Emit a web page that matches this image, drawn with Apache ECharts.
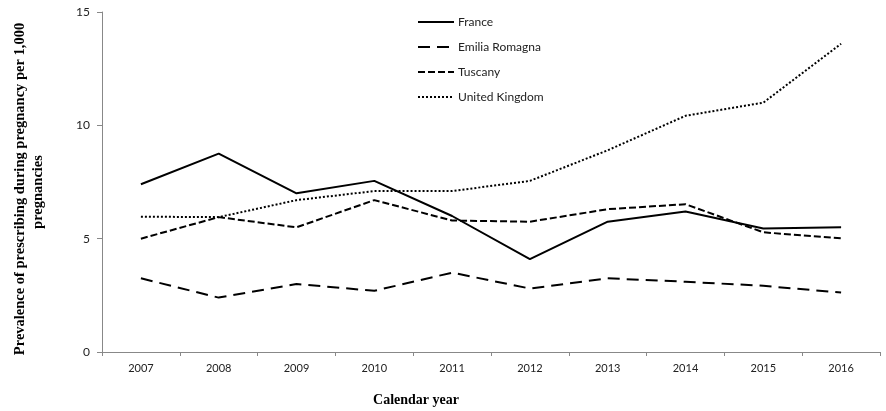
<!DOCTYPE html>
<html><head><meta charset="utf-8">
<script src="https://cdn.jsdelivr.net/npm/echarts@6/dist/echarts.min.js"></script>
<style>html,body{margin:0;padding:0;background:#fff}#c{width:886px;height:411px}</style>
</head><body><div id="c"></div>
<script>
var years = ['2007','2008','2009','2010','2011','2012','2013','2014','2015','2016'];
var france = [7.4, 8.75, 7.0, 7.55, 6.0, 4.1, 5.75, 6.2, 5.45, 5.5];
var emiliaRomagna = [3.25, 2.4, 3.0, 2.7, 3.5, 2.8, 3.25, 3.1, 2.92, 2.62];
var tuscany = [5.0, 5.95, 5.5, 6.7, 5.8, 5.75, 6.3, 6.52, 5.28, 5.02];
var unitedKingdom = [5.97, 5.95, 6.7, 7.1, 7.1, 7.55, 8.9, 10.42, 11.0, 13.6];
var yTicks = [0, 5, 10, 15];

var chart = echarts.init(document.getElementById('c'));
var lbl = {fontFamily:'Lato', fontSize:11, color:'#222'};
function mk(name, data, type, width){
  return {name:name, type:'line', data:data, symbol:'none', smooth:false,
    lineStyle:{color:'#000', width:width, type:type}, itemStyle:{color:'#000'},
    emphasis:{disabled:true}};
}
chart.setOption({
  animation:false,
  grid:{left:102, right:6, top:12, bottom:59},
  legend:{orient:'vertical', left:412, top:11, itemWidth:36, itemHeight:14, itemGap:13,
    itemStyle:{opacity:0},
    textStyle:{fontFamily:'Lato', fontSize:12, color:'#222', padding:[0,0,0,-1]},
    data:['France','Emilia Romagna','Tuscany','United Kingdom']},
  xAxis:{type:'category', data:years, boundaryGap:true,
    axisLine:{lineStyle:{color:'#888', width:1}},
    axisTick:{show:true, length:4, lineStyle:{color:'#888'}},
    axisLabel:Object.assign({margin:11}, lbl)},
  yAxis:{type:'value', min:yTicks[0], max:yTicks[yTicks.length-1], interval:5,
    splitLine:{show:false},
    axisLine:{show:true, lineStyle:{color:'#888', width:1}},
    axisTick:{show:true, length:5, lineStyle:{color:'#888'}},
    axisLabel:Object.assign({margin:12}, lbl, {fontSize:12})},
  graphic:[
    {type:'text', x:20, y:189, rotation:Math.PI/2,
     style:{text:'Prevalence of prescribing during pregnancy per 1,000', font:'bold 14.5px "Liberation Serif"', fill:'#000', align:'center', verticalAlign:'middle'}},
    {type:'text', x:38, y:192, rotation:Math.PI/2,
     style:{text:'pregnancies', font:'bold 14.5px "Liberation Serif"', fill:'#000', align:'center', verticalAlign:'middle'}},
    {type:'text', x:416, y:400,
     style:{text:'Calendar year', font:'bold 14px "Liberation Serif"', fill:'#000', align:'center', verticalAlign:'middle'}}
  ],
  series:[
    mk('France', france, 'solid', 2),
    mk('Emilia Romagna', emiliaRomagna, [12,7], 2),
    mk('Tuscany', tuscany, [7,3], 2),
    mk('United Kingdom', unitedKingdom, [2,2], 2)
  ]
});
</script></body></html>
